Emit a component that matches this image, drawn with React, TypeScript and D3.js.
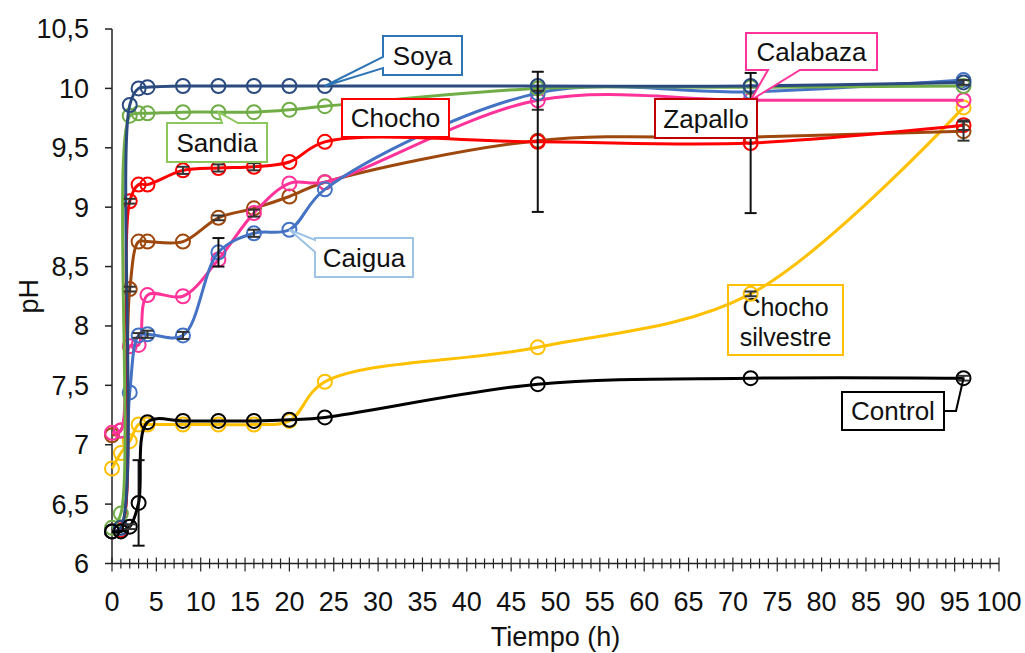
import React from "react";
import * as d3 from "d3";

// Sampling times (h)
const times = [0, 1, 2, 3, 4, 8, 12, 16, 20, 24, 48, 72, 96];

// pH per treatment at each sampling time
const soya = [6.27, 6.3, 9.86, 10.0, 10.01, 10.02, 10.02, 10.02, 10.02, 10.02, 10.02, 10.02, 10.05];
const sandia = [6.3, 6.42, 9.77, 9.79, 9.79, 9.8, 9.8, 9.8, 9.82, 9.85, 10.0, 10.01, 10.02];
const chocho = [6.27, 6.28, 9.05, 9.19, 9.19, 9.31, 9.33, 9.34, 9.38, 9.55, 9.55, 9.54, 9.69];
const zapallo = [7.08, 7.12, 8.31, 8.71, 8.71, 8.71, 8.91, 8.99, 9.09, 9.21, 9.56, 9.59, 9.64];
const caigua = [6.27, 6.3, 7.44, 7.92, 7.93, 7.92, 8.62, 8.78, 8.81, 9.15, 9.96, 9.97, 10.07];
const calabaza = [7.1, 7.12, 7.83, 7.84, 8.26, 8.25, 8.56, 8.95, 9.2, 9.21, 9.9, 9.9, 9.9];
const chochoSilvestre = [6.8, 6.93, 7.03, 7.17, 7.17, 7.17, 7.17, 7.17, 7.2, 7.53, 7.82, 8.27, 9.84];
const control = [6.27, 6.27, 6.31, 6.51, 7.19, 7.2, 7.2, 7.2, 7.21, 7.23, 7.51, 7.56, 7.56];

// Standard deviations (0 = no bar)
const soyaErr = [0, 0, 0, 0, 0, 0, 0, 0, 0, 0, 0, 0, 0.02];
const sandiaErr = [0, 0, 0, 0, 0, 0, 0, 0, 0, 0, 0, 0, 0];
const chochoErr = [0, 0, 0.02, 0, 0, 0.03, 0.03, 0.03, 0, 0, 0.59, 0.59, 0.04];
const zapalloErr = [0, 0, 0.02, 0, 0, 0, 0.02, 0, 0, 0, 0, 0, 0.08];
const caiguaErr = [0, 0, 0, 0.02, 0.03, 0.03, 0.12, 0.03, 0, 0, 0, 0, 0];
const calabazaErr = [0, 0, 0, 0, 0, 0, 0, 0.03, 0, 0, 0.08, 0, 0];
const silvestreErr = [0, 0, 0, 0, 0, 0, 0, 0, 0, 0, 0, 0.02, 0];
const controlErr = [0, 0, 0.02, 0.36, 0, 0, 0, 0, 0, 0, 0, 0, 0.02];

const yTicks = [6, 6.5, 7, 7.5, 8, 8.5, 9, 9.5, 10, 10.5];
const xTicks = d3.range(0, 101, 5);

const series = [
  { name: "Chocho silvestre", values: chochoSilvestre, err: silvestreErr, color: "#FFC000" },
  { name: "Zapallo", values: zapallo, err: zapalloErr, color: "#9E480E" },
  { name: "Calabaza", values: calabaza, err: calabazaErr, color: "#FF3399" },
  { name: "Caigua", values: caigua, err: caiguaErr, color: "#4472C4" },
  { name: "Chocho", values: chocho, err: chochoErr, color: "#FF0000" },
  { name: "Sandia", values: sandia, err: sandiaErr, color: "#70AD47" },
  { name: "Soya", values: soya, err: soyaErr, color: "#2B4B80" },
  { name: "Control", values: control, err: controlErr, color: "#000000" },
];

const W = 1025;
const H = 653;
const FONT = "'Liberation Sans', Arial, sans-serif";

const x = d3.scaleLinear().domain([0, 100]).range([112, 999]);
const y = d3.scaleLinear().domain([6, 10.5]).range([563.5, 29]);

const fmt = (v: number) => String(v).replace(".", ",");

type Box = [number, number, number, number];

function calloutPath(box: Box, side: string, a: number, b: number, tip: [number, number]) {
  const [x0, y0, x1, y1] = box;
  const p = d3.path();
  if (side === "left") {
    p.moveTo(x0, y0); p.lineTo(x1, y0); p.lineTo(x1, y1); p.lineTo(x0, y1);
    p.lineTo(x0, b); p.lineTo(tip[0], tip[1]); p.lineTo(x0, a);
  } else if (side === "top") {
    p.moveTo(x0, y0); p.lineTo(a, y0); p.lineTo(tip[0], tip[1]); p.lineTo(b, y0);
    p.lineTo(x1, y0); p.lineTo(x1, y1); p.lineTo(x0, y1);
  } else if (side === "bottom") {
    p.moveTo(x0, y0); p.lineTo(x1, y0); p.lineTo(x1, y1); p.lineTo(b, y1);
    p.lineTo(tip[0], tip[1]); p.lineTo(a, y1); p.lineTo(x0, y1);
  } else {
    p.rect(x0, y0, x1 - x0, y1 - y0);
  }
  p.closePath();
  return p.toString();
}

const pt = (vals: number[], i: number): [number, number] => [x(times[i]), y(vals[i])];

// Label boxes; wedge tips are taken from the series points they name
const callouts = [
  { lines: ["Soya"], box: [383, 36, 462, 75] as Box, side: "left", a: 57, b: 68, tip: pt(soya, 9), stroke: "#2E75B6", fill: "#fff" },
  { lines: ["Sandia"], box: [167, 123, 267, 162] as Box, side: "top", a: 222, b: 238, tip: pt(sandia, 6), stroke: "#8DC65C", fill: "#fff" },
  { lines: ["Chocho"], box: [342, 99, 449, 137] as Box, side: "none", a: 0, b: 0, tip: [0, 0] as [number, number], stroke: "#FF0000", fill: "#fff" },
  { lines: ["Caigua"], box: [315, 238, 413, 277] as Box, side: "left", a: 240, b: 252, tip: pt(caigua, 8), stroke: "#9DC3E6", fill: "#fff" },
  { lines: ["Calabaza"], box: [746, 33, 877, 70] as Box, side: "bottom", a: 768, b: 800, tip: pt(calabaza, 11), stroke: "#FF3399", fill: "#fff" },
  { lines: ["Zapallo"], box: [655, 99, 757, 138] as Box, side: "none", a: 0, b: 0, tip: [0, 0] as [number, number], stroke: "#C00000", fill: "#fff" },
  { lines: ["Control"], box: [842, 392, 944, 430] as Box, side: "none", a: 0, b: 0, tip: [0, 0] as [number, number], stroke: "#000000", fill: "#fff" },
];

export default function App() {
  const line = d3
    .line<number>()
    .x((_, i) => x(times[i]))
    .y((v) => y(v))
    .curve(d3.curveCatmullRom.alpha(0.5));

  const minor = d3.range(0, 101, 1);
  const ctrlTip = pt(control, 12);
  const silvBox: Box = [728, 285, 843, 355];

  return (
    <svg
      width={W}
      height={H}
      style={{ position: "absolute", left: 0, top: 0, background: "#fff" }}
      fontFamily={FONT}
    >
      {/* Label with a transparent box sits under the curves */}
      <rect
        x={silvBox[0]}
        y={silvBox[1]}
        width={silvBox[2] - silvBox[0]}
        height={silvBox[3] - silvBox[1]}
        fill="none"
        stroke="#FFC000"
        strokeWidth={2}
      />
      <text x={(silvBox[0] + silvBox[2]) / 2} y={316} fontSize={25} textAnchor="middle" fill="#111">
        Chocho
      </text>
      <text x={(silvBox[0] + silvBox[2]) / 2} y={346} fontSize={25} textAnchor="middle" fill="#111">
        silvestre
      </text>

      {/* Axes */}
      <line x1={x(0)} x2={x(0)} y1={y(10.5)} y2={y(6)} stroke="#222" strokeWidth={1.5} />
      {yTicks.map((t) => (
        <g key={"y" + t}>
          <line x1={x(0) - 7} x2={x(0)} y1={y(t)} y2={y(t)} stroke="#222" strokeWidth={1.5} />
          <text x={89} y={y(t)} dy="0.35em" fontSize={27} textAnchor="end" fill="#111">
            {fmt(t)}
          </text>
        </g>
      ))}
      <line x1={x(0)} x2={x(100)} y1={y(6)} y2={y(6)} stroke="#222" strokeWidth={1.5} />
      {minor.map((t) => {
        const major = t % 5 === 0;
        return (
          <line
            key={"m" + t}
            x1={x(t)}
            x2={x(t)}
            y1={y(6) - (major ? 6 : 5)}
            y2={y(6) + (major ? 8 : 5)}
            stroke="#222"
            strokeWidth={1.2}
          />
        );
      })}
      {xTicks.map((t) => (
        <text key={"x" + t} x={x(t)} y={611} fontSize={27} textAnchor="middle" fill="#111">
          {t}
        </text>
      ))}
      <text x={(x(0) + x(100)) / 2} y={646} fontSize={27} textAnchor="middle" fill="#111">
        Tiempo (h)
      </text>
      <text transform={`translate(38,${(y(6) + y(10.5)) / 2}) rotate(-90)`} fontSize={27} textAnchor="middle" fill="#111">
        pH
      </text>

      {/* Curves and markers */}
      {series.map((s) => (
        <g key={s.name}>
          <path d={line(s.values) || ""} fill="none" stroke={s.color} strokeWidth={3} />
          {s.values.map((v, i) => (
            <circle key={i} cx={x(times[i])} cy={y(v)} r={7} fill="none" stroke={s.color} strokeWidth={2} />
          ))}
        </g>
      ))}

      {/* Error bars */}
      {series.map((s) =>
        s.values.map((v, i) => {
          const e = s.err[i];
          if (!e) return null;
          const cx = x(times[i]);
          const big = e > 0.1;
          const c = big ? "#111" : "#333";
          return (
            <g key={s.name + "e" + i} stroke={c} strokeWidth={2}>
              <line x1={cx} x2={cx} y1={y(v - e)} y2={y(v + e)} />
              <line x1={cx - 6} x2={cx + 6} y1={y(v - e)} y2={y(v - e)} />
              <line x1={cx - 6} x2={cx + 6} y1={y(v + e)} y2={y(v + e)} />
            </g>
          );
        })
      )}

      {/* Series labels */}
      {callouts.map((c) => (
        <g key={c.lines[0]}>
          <path d={calloutPath(c.box, c.side, c.a, c.b, c.tip)} fill={c.fill} stroke={c.stroke} strokeWidth={2} />
          <text
            x={(c.box[0] + c.box[2]) / 2}
            y={(c.box[1] + c.box[3]) / 2}
            dy="0.36em"
            fontSize={26}
            textAnchor="middle"
            fill="#111"
          >
            {c.lines[0]}
          </text>
        </g>
      ))}
      <polyline
        points={`944,411 956,411 ${ctrlTip[0]},${ctrlTip[1]}`}
        fill="none"
        stroke="#000"
        strokeWidth={2}
      />
    </svg>
  );
}
